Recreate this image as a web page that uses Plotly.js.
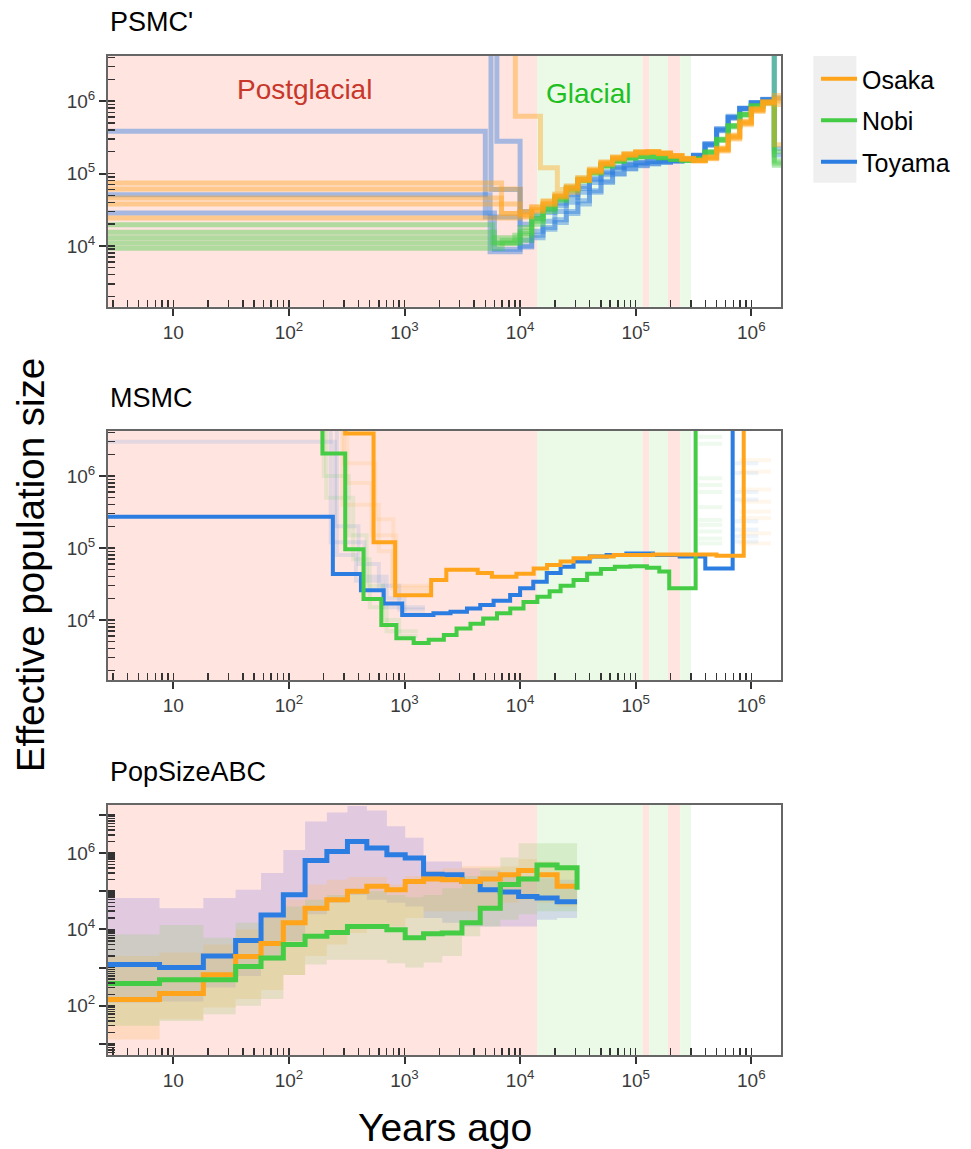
<!DOCTYPE html>
<html><head><meta charset="utf-8">
<script src="https://cdn.plot.ly/plotly-3.0.1.min.js"></script>
<style>html,body{margin:0;padding:0;background:#fff;} #chart{width:971px;height:1149px;}</style>
</head><body><div id="chart"></div>
<script>
// ================= DATA =================
const FONT = 'Liberation Sans, Arial, Helvetica, sans-serif';
const colOsaka = '#FFA41B', colNobi = '#45CC45', colToyama = '#2B7DE1';

// climate periods (years ago)
const periodStarts = [1, 14000, 115000, 131000, 190000, 243000];
const periodEnds   = [14000, 115000, 131000, 190000, 243000, 300000];
const periodIsGlacial = [false, true, false, true, false, true];

// axis ticks
const xTickVals = [10, 100, 1000, 10000, 100000, 1000000];
const xTickText = ['10', '10<sup>2</sup>', '10<sup>3</sup>', '10<sup>4</sup>', '10<sup>5</sup>', '10<sup>6</sup>'];
const yTickVals = [10000, 100000, 1000000];
const yTickText = ['10<sup>4</sup>', '10<sup>5</sup>', '10<sup>6</sup>'];
const y3TickVals = [10, 100, 1000, 10000, 100000, 1000000, 10000000];
const y3TickText = ['', '10<sup>2</sup>', '', '10<sup>4</sup>', '', '10<sup>6</sup>', ''];

// ---- PSMC' (per-individual curves) ----
const psmcRampYears = [10000, 12600, 15800, 20000, 25100, 31600, 39800, 50100, 63100, 79400, 100000, 126000, 158000, 200000, 251000, 316000, 398000, 501000, 631000, 794000, 1000000, 1260000, 1580000];
const psmcEndYear = 2000000;

const psmcOsakaEarlyYears = [[1, 6900], [1], [1, 6900], [1], [1], [1, 9100, 15000, 21000]];
const psmcOsakaEarlyNe = [[74000, 28000], [61000], [46000, 28000], [38000], [24300], [1e7, 620000, 120000, 60000]];
const psmcOsakaRamps = [
  [30000, 35000, 42000, 52000, 68000, 88000, 115000, 145000, 170000, 188000, 200000, 200000, 190000, 174000, 158000, 150000, 168000, 220000, 330000, 520000, 780000, 980000, 1100000],
  [27000, 32000, 39000, 49000, 63000, 83000, 108000, 138000, 163000, 183000, 196000, 199000, 191000, 177000, 162000, 152000, 163000, 210000, 310000, 490000, 740000, 940000, 900000],
  [29000, 34000, 41000, 51000, 66000, 86000, 112000, 142000, 167000, 186000, 198000, 201000, 192000, 176000, 160000, 149000, 160000, 205000, 300000, 470000, 720000, 920000, 250000],
  [26000, 31000, 38000, 48000, 62000, 82000, 106000, 135000, 160000, 180000, 193000, 196000, 188000, 173000, 158000, 151000, 170000, 225000, 340000, 530000, 790000, 990000, 1200000],
  [25000, 30000, 37000, 47000, 61000, 80000, 104000, 133000, 158000, 178000, 191000, 195000, 189000, 175000, 160000, 152000, 166000, 218000, 325000, 505000, 760000, 960000, 1050000],
  [null, null, null, null, 55000, 80000, 110000, 140000, 165000, 184000, 197000, 200000, 191000, 176000, 161000, 151000, 165000, 215000, 320000, 500000, 760000, 960000, 1000000]
];

const psmcToyamaEarlyYears = [[1, 5000], [1, 6300, 10000], [1, 5500], [1, 6000], [1, 5600, 10000]];
const psmcToyamaEarlyNe = [[385000, 25000], [1e7, 280000, 9700], [51000, 8300], [28500, 9000], [1e7, 60000, 30000]];
const psmcToyamaRamps = [
  [20000, 24000, 29000, 36000, 47000, 62000, 82000, 102000, 120000, 133000, 141000, 146000, 149000, 151000, 157000, 180000, 255000, 410000, 600000, 800000, 950000, 1050000, 1e7],
  [null, 13000, 17000, 21000, 28000, 38000, 55000, 75000, 98000, 115000, 128000, 135000, 142000, 148000, 155000, 175000, 260000, 420000, 620000, 800000, 950000, 1050000, 1100000],
  [10000, 14000, 18000, 23000, 30000, 42000, 58000, 78000, 100000, 117000, 130000, 137000, 143000, 149000, 156000, 178000, 250000, 400000, 600000, 790000, 940000, 1040000, 220000],
  [12000, 16000, 22000, 30000, 40000, 55000, 75000, 96000, 115000, 130000, 139000, 144000, 147000, 150000, 156000, 178000, 250000, 400000, 590000, 780000, 940000, 1040000, 180000],
  [null, 27000, 32000, 39000, 51000, 66000, 86000, 106000, 123000, 136000, 143000, 147000, 149000, 151000, 156000, 176000, 245000, 390000, 580000, 790000, 950000, 1060000, 1e7]
];

const psmcNobiEarlyYears = [[1, 5800], [1, 6000], [1], [1, 9000], [1, 7000]];
const psmcNobiEarlyNe = [[19600, 11000], [15500, 11000], [13000], [11000, 14000], [9300, 12000]];
const psmcNobiRamps = [
  [14000, 22000, 32000, 44000, 60000, 80000, 103000, 128000, 149000, 164000, 171000, 172000, 166000, 158000, 152000, 158000, 195000, 290000, 450000, 650000, 850000, 950000, 150000],
  [12000, 20000, 30000, 42000, 58000, 78000, 100000, 125000, 146000, 162000, 170000, 171000, 165000, 157000, 151000, 157000, 192000, 285000, 440000, 640000, 840000, 940000, 130000],
  [16000, 24000, 34000, 46000, 62000, 82000, 105000, 130000, 150000, 165000, 172000, 172000, 165000, 157000, 152000, 159000, 198000, 295000, 455000, 660000, 860000, 960000, 1e7],
  [18000, 26000, 36000, 48000, 64000, 84000, 107000, 132000, 152000, 166000, 173000, 173000, 166000, 158000, 153000, 160000, 200000, 300000, 460000, 660000, 860000, 960000, 200000],
  [15000, 23000, 33000, 45000, 61000, 81000, 104000, 129000, 150000, 165000, 172000, 172000, 165000, 157000, 152000, 158000, 196000, 292000, 452000, 655000, 855000, 955000, 140000]
];

// ---- MSMC (main estimates; step start years + Ne) ----
const msmcEndYear = 2000000;
const msmcOsakaYears = [1, 307, 540, 830, 1700, 2300, 4300, 5700, 9300, 13100, 17100, 22400, 29000, 40500, 64600, 141000, 500000, 860000];
const msmcOsakaNe    = [1e8, 3.9e6, 120000, 22000, 36000, 50000, 45000, 40000, 44000, 52000, 58000, 65000, 72000, 76000, 80000, 81000, 78000, 1e8];
const msmcToyamaYears = [1, 240, 420, 661, 955, 1780, 2500, 3470, 4520, 5900, 8200, 10000, 13000, 17000, 22400, 29000, 40000, 56000, 83000, 141000, 240000, 400000, 690000];
const msmcToyamaNe    = [272000, 43600, 26000, 17000, 11700, 12400, 13000, 14500, 16200, 18500, 22300, 27600, 34000, 45000, 55000, 65000, 76000, 80000, 84000, 80000, 76000, 52000, 1e8];
const msmcNobiYears = [1, 195, 307, 442, 630, 850, 1200, 1620, 2190, 2820, 3720, 4790, 6310, 8220, 10700, 14100, 18000, 22400, 29000, 38000, 50000, 66000, 90000, 125000, 160000, 195000, 330000];
const msmcNobiNe    = [1e8, 2.05e6, 96000, 19500, 8500, 5600, 4800, 5300, 6200, 7600, 8900, 10500, 12400, 14500, 17800, 21000, 25000, 30000, 36000, 44000, 51000, 55000, 56000, 53000, 47000, 27600, 1e8];

// MSMC bootstrap replicates (faint): early parts and last-interval values
const msmcBootOsakaYears = [[1, 300, 560, 800, 1700], [1, 320, 520, 850, 1650], [1, 290, 600, 780, 1750]];
const msmcBootOsakaNe    = [[1e8, 1.5e6, 250000, 30000, 30000], [1e8, 800000, 150000, 25000, 25000], [1e8, 400000, 90000, 28000, 28000]];
const msmcBootToyamaYears = [[1, 250, 400, 600, 900, 1500], [1, 230, 450, 700, 1000, 1500], [1, 260, 380, 650, 1500]];
const msmcBootToyamaNe    = [[3e6, 200000, 60000, 30000, 14000, 14000], [1e8, 120000, 40000, 20000, 12000, 12000], [1e8, 80000, 35000, 15000, 15000]];
const msmcBootNobiYears = [[1, 200, 330, 470, 650, 900, 1300], [1, 210, 360, 500, 700, 1300]];
const msmcBootNobiNe    = [[1e8, 1e6, 150000, 30000, 10000, 6000, 6000], [1e8, 500000, 70000, 15000, 7000, 7000]];
const msmcBootOsakaEndSpan = [790000, 1480000];
const msmcBootOsakaEndNe = [1.66e6, 1.15e6, 6.5e5, 4.4e5, 3.2e5, 2.6e5, 1.6e5, 1.16e5];
const msmcBootToyamaEndSpan = [720000, 1150000];
const msmcBootToyamaEndNe = [1.5e6, 1.1e6, 6.0e5, 4.7e5, 2.35e5, 1.8e5, 1.45e5, 1.23e5];
const msmcBootNobiEndSpan = [350000, 560000];
const msmcBootNobiEndNe = [3.5e6, 2.8e6, 9.3e5, 7.5e5, 6.0e5, 3.7e5, 2.45e5, 2.1e5, 1.7e5, 1.35e5, 1.16e5];

// ---- PopSizeABC (interval boundaries; median + 95% band) ----
const abcYears = [1, 7.6, 18.2, 34.6, 57.4, 89.5, 138, 213, 321, 472, 704, 1014, 1462, 2120, 3140, 4520, 6740, 9710, 14000, 20900, 31100];
const abcToyamaNe = [1200, 1010, 2000, 5100, 24000, 81000, 640000, 1100000, 2000000, 1350000, 900000, 740000, 280000, 270000, 180000, 110000, 95000, 73000, 66000, 53000, 53000];
const abcOsakaNe  = [145, 210, 650, 1950, 4300, 15000, 36000, 60000, 100000, 135000, 110000, 180000, 210000, 200000, 180000, 210000, 270000, 350000, 270000, 135000, 135000];
const abcNobiNe   = [380, 480, 480, 1070, 1780, 4000, 6600, 8300, 12000, 12000, 9800, 6000, 7700, 8000, 15000, 36000, 150000, 210000, 490000, 410000, 110000];
const abcToyamaUp = [66000, 36000, 66000, 110000, 300000, 1200000, 6700000, 11500000, 17000000, 13000000, 5000000, 2500000, 600000, 600000, 400000, 350000, 300000, 250000, 220000, 200000, 200000];
const abcToyamaLo = [120, 130, 300, 600, 1500, 5000, 25000, 50000, 80000, 60000, 50000, 40000, 20000, 15000, 12000, 12000, 12000, 12000, 18000, 20000, 20000];
const abcOsakaUp  = [2000, 2500, 4000, 10000, 25000, 60000, 150000, 200000, 235000, 235000, 150000, 250000, 350000, 400000, 450000, 450000, 450000, 700000, 600000, 400000, 400000];
const abcOsakaLo  = [13, 44, 90, 150, 260, 640, 2000, 4000, 8000, 12000, 12000, 20000, 30000, 30000, 30000, 40000, 50000, 60000, 50000, 40000, 40000];
const abcNobiUp   = [7300, 13000, 6000, 15000, 20000, 40000, 60000, 80000, 100000, 100000, 80000, 70000, 80000, 120000, 250000, 410000, 760000, 1800000, 1800000, 1800000, 1800000];
const abcNobiLo   = [30, 40, 60, 100, 150, 640, 1200, 1600, 1600, 1600, 1300, 1000, 1350, 2000, 6600, 12000, 18000, 25000, 30000, 30000, 30000];

// ================= BUILD =================
const traces = [];
function addLine(x, y, color, width, opacity, xa, ya, extra) {
  traces.push(Object.assign({
    type: 'scatter', mode: 'lines', x: x, y: y, xaxis: xa, yaxis: ya,
    line: {shape: 'hv', color: color, width: width}, opacity: opacity,
    hoverinfo: 'skip', showlegend: false
  }, extra || {}));
}
function psmcLine(earlyYears, earlyNe, ramp) {
  const last = earlyYears[earlyYears.length - 1];
  const x = earlyYears.slice(), y = earlyNe.slice();
  psmcRampYears.forEach((t, i) => { if (t > last && ramp[i] !== null) { x.push(t); y.push(ramp[i]); } });
  x.push(psmcEndYear); y.push(y[y.length - 1]);
  return {x, y};
}
// PSMC' panel: blue, green, orange (orange on top)
[[psmcToyamaEarlyYears, psmcToyamaEarlyNe, psmcToyamaRamps, colToyama],
 [psmcNobiEarlyYears, psmcNobiEarlyNe, psmcNobiRamps, colNobi],
 [psmcOsakaEarlyYears, psmcOsakaEarlyNe, psmcOsakaRamps, colOsaka]].forEach(([ey, en, rr, c]) => {
  rr.forEach((r, i) => { const l = psmcLine(ey[i], en[i], r); addLine(l.x, l.y, c, 5, 0.42, 'x', 'y'); });
});

// MSMC bootstraps
[[msmcBootToyamaYears, msmcBootToyamaNe, colToyama], [msmcBootNobiYears, msmcBootNobiNe, colNobi], [msmcBootOsakaYears, msmcBootOsakaNe, colOsaka]].forEach(([ys, ns, c]) => {
  ys.forEach((xx, i) => addLine(xx, ns[i], c, 4, 0.12, 'x2', 'y2'));
});
[[msmcBootNobiEndSpan, msmcBootNobiEndNe, colNobi], [msmcBootToyamaEndSpan, msmcBootToyamaEndNe, colToyama], [msmcBootOsakaEndSpan, msmcBootOsakaEndNe, colOsaka]].forEach(([sp, ns, c]) => {
  const x = [], y = [];
  ns.forEach(v => { x.push(sp[0], sp[1], null); y.push(v, v, null); });
  traces.push({type: 'scatter', mode: 'lines', x: x, y: y, xaxis: 'x2', yaxis: 'y2', line: {color: c, width: 4}, opacity: 0.08, hoverinfo: 'skip', showlegend: false});
});
// MSMC main lines (these carry the legend)
function msmcMain(years, ne, c, name, rank) {
  addLine(years.concat([msmcEndYear]), ne.concat([ne[ne.length - 1]]), c, 4, 1, 'x2', 'y2',
    {showlegend: true, name: name, legendgroup: name, legendrank: rank});
}
msmcMain(msmcToyamaYears, msmcToyamaNe, colToyama, 'Toyama', 3);
msmcMain(msmcNobiYears, msmcNobiNe, colNobi, 'Nobi', 2);
msmcMain(msmcOsakaYears, msmcOsakaNe, colOsaka, 'Osaka', 1);

// PopSizeABC bands then medians
function band(lo, up, fc) {
  traces.push({type: 'scatter', mode: 'lines', x: abcYears, y: lo, xaxis: 'x3', yaxis: 'y3', line: {shape: 'hv', width: 0}, hoverinfo: 'skip', showlegend: false});
  traces.push({type: 'scatter', mode: 'lines', x: abcYears, y: up, xaxis: 'x3', yaxis: 'y3', line: {shape: 'hv', width: 0}, fill: 'tonexty', fillcolor: fc, hoverinfo: 'skip', showlegend: false});
}
band(abcToyamaLo, abcToyamaUp, 'rgba(120,110,225,0.22)');
band(abcOsakaLo, abcOsakaUp, 'rgba(255,185,90,0.25)');
band(abcNobiLo, abcNobiUp, 'rgba(150,205,110,0.25)');
addLine(abcYears, abcToyamaNe, colToyama, 5, 1, 'x3', 'y3');
addLine(abcYears, abcOsakaNe, colOsaka, 5, 1, 'x3', 'y3');
addLine(abcYears, abcNobiNe, colNobi, 5, 1, 'x3', 'y3');

// background period shapes
const shapes = [];
[['x', 'y domain'], ['x2', 'y2 domain'], ['x3', 'y3 domain']].forEach(([xr, yr]) => {
  periodStarts.forEach((s, i) => {
    shapes.push({type: 'rect', xref: xr, yref: yr, x0: s, x1: periodEnds[i], y0: 0, y1: 1, layer: 'below',
      line: {width: 0}, fillcolor: periodIsGlacial[i] ? '#EAFAE7' : '#FFE4E0'});
  });
});
// legend grey backing behind line samples
shapes.push({type: 'rect', xref: 'paper', yref: 'paper', x0: 1.048, x1: 1.112, y0: 0.873, y1: 1.0, line: {width: 0}, fillcolor: '#EFEFEF', layer: 'below'});

const xRange = [0.435, 6.257];
const TICKFONT = {size: 19, color: '#3a3a3a', family: FONT};
function xAxis(anchor) {
  return {type: 'log', range: xRange, anchor: anchor, domain: [0, 1],
    tickmode: 'array', tickvals: xTickVals, ticktext: xTickText,
    showline: true, mirror: true, linecolor: '#666', linewidth: 2,
    ticks: 'outside', ticklen: 7, tickwidth: 2, tickcolor: '#333',
    minor: {ticks: 'inside', ticklen: 7, tickwidth: 1.5, tickcolor: '#333', dtick: 'D1', showgrid: false},
    showgrid: false, zeroline: false, tickfont: TICKFONT};
}
function yAxis(anchor, domain, range, tv, tt) {
  return {type: 'log', range: range, anchor: anchor, domain: domain,
    tickmode: 'array', tickvals: tv, ticktext: tt,
    showline: true, mirror: true, linecolor: '#666', linewidth: 2,
    ticks: 'outside', ticklen: 7, tickwidth: 2, tickcolor: '#333',
    minor: {ticks: 'inside', ticklen: 7, tickwidth: 1.5, tickcolor: '#333', dtick: 'D1', showgrid: false},
    showgrid: false, zeroline: false, tickfont: TICKFONT};
}
// overlay axes: inner half of the major ticks (ticks cross the frame)
function xInner(over, anchor) {
  return {type: 'log', range: xRange, overlaying: over, anchor: anchor, side: 'bottom',
    tickmode: 'array', tickvals: xTickVals, showticklabels: false, ticks: 'inside', ticklen: 12, tickwidth: 2, tickcolor: '#333',
    showline: false, showgrid: false, zeroline: false};
}
function yInner(over, anchor, range, tv) {
  return {type: 'log', range: range, overlaying: over, anchor: anchor, side: 'left',
    tickmode: 'array', tickvals: tv, showticklabels: false, ticks: 'inside', ticklen: 12, tickwidth: 2, tickcolor: '#333',
    showline: false, showgrid: false, zeroline: false};
}

const annotations = [
  {text: "PSMC'", xref: 'paper', yref: 'paper', x: 0, y: 1.034, xanchor: 'left', yanchor: 'middle', showarrow: false, font: {size: 27, color: '#000', family: FONT}},
  {text: 'MSMC', xref: 'paper', yref: 'paper', x: 0, y: 0.6577, xanchor: 'left', yanchor: 'middle', showarrow: false, font: {size: 27, color: '#000', family: FONT}},
  {text: 'PopSizeABC', xref: 'paper', yref: 'paper', x: 0, y: 0.2833, xanchor: 'left', yanchor: 'middle', showarrow: false, font: {size: 27, color: '#000', family: FONT}},
  {text: 'Postglacial', xref: 'paper', yref: 'paper', x: 0.2914, y: 0.966, xanchor: 'center', yanchor: 'middle', showarrow: false, font: {size: 28, color: '#C8372A', family: FONT}},
  {text: 'Glacial', xref: 'paper', yref: 'paper', x: 0.715, y: 0.962, xanchor: 'center', yanchor: 'middle', showarrow: false, font: {size: 28, color: '#1FBF1F', family: FONT}},
  {text: 'Effective population size', xref: 'paper', yref: 'paper', x: -0.114, y: 0.4905, xanchor: 'center', yanchor: 'middle', textangle: -90, showarrow: false, font: {size: 38.5, color: '#000', family: FONT}},
  {text: 'Years ago', xref: 'paper', yref: 'paper', x: 0.501, y: -0.073, xanchor: 'center', yanchor: 'middle', showarrow: false, font: {size: 39, color: '#000', family: FONT}}
];

const layout = {
  width: 971, height: 1149,
  margin: {l: 108, r: 190, t: 56, b: 94},
  paper_bgcolor: '#fff', plot_bgcolor: '#fff',
  font: {family: FONT},
  xaxis: xAxis('y'), xaxis2: xAxis('y2'), xaxis3: xAxis('y3'),
  yaxis: yAxis('x', [0.749, 1], [3.16, 6.623], yTickVals, yTickText),
  yaxis2: yAxis('x2', [0.3754, 0.6246], [3.167, 6.625], yTickVals, yTickText),
  yaxis3: yAxis('x3', [0, 0.2503], [0.71, 7.26], y3TickVals, y3TickText),
  xaxis4: xInner('x', 'y'), xaxis5: xInner('x2', 'y2'), xaxis6: xInner('x3', 'y3'),
  yaxis4: yInner('y', 'x', [3.16, 6.623], yTickVals),
  yaxis5: yInner('y2', 'x2', [3.167, 6.625], yTickVals),
  yaxis6: yInner('y3', 'x3', [0.71, 7.26], y3TickVals),
  shapes: shapes, annotations: annotations,
  showlegend: true,
  legend: {x: 1.052, y: 1.0, xanchor: 'left', yanchor: 'top', bgcolor: 'rgba(0,0,0,0)', borderwidth: 0,
    font: {size: 25, color: '#000', family: FONT}, tracegroupgap: 6, itemwidth: 36, traceorder: 'grouped'}
};

Plotly.newPlot('chart', traces, layout, {displayModeBar: false, staticPlot: true});
</script>
</body></html>
